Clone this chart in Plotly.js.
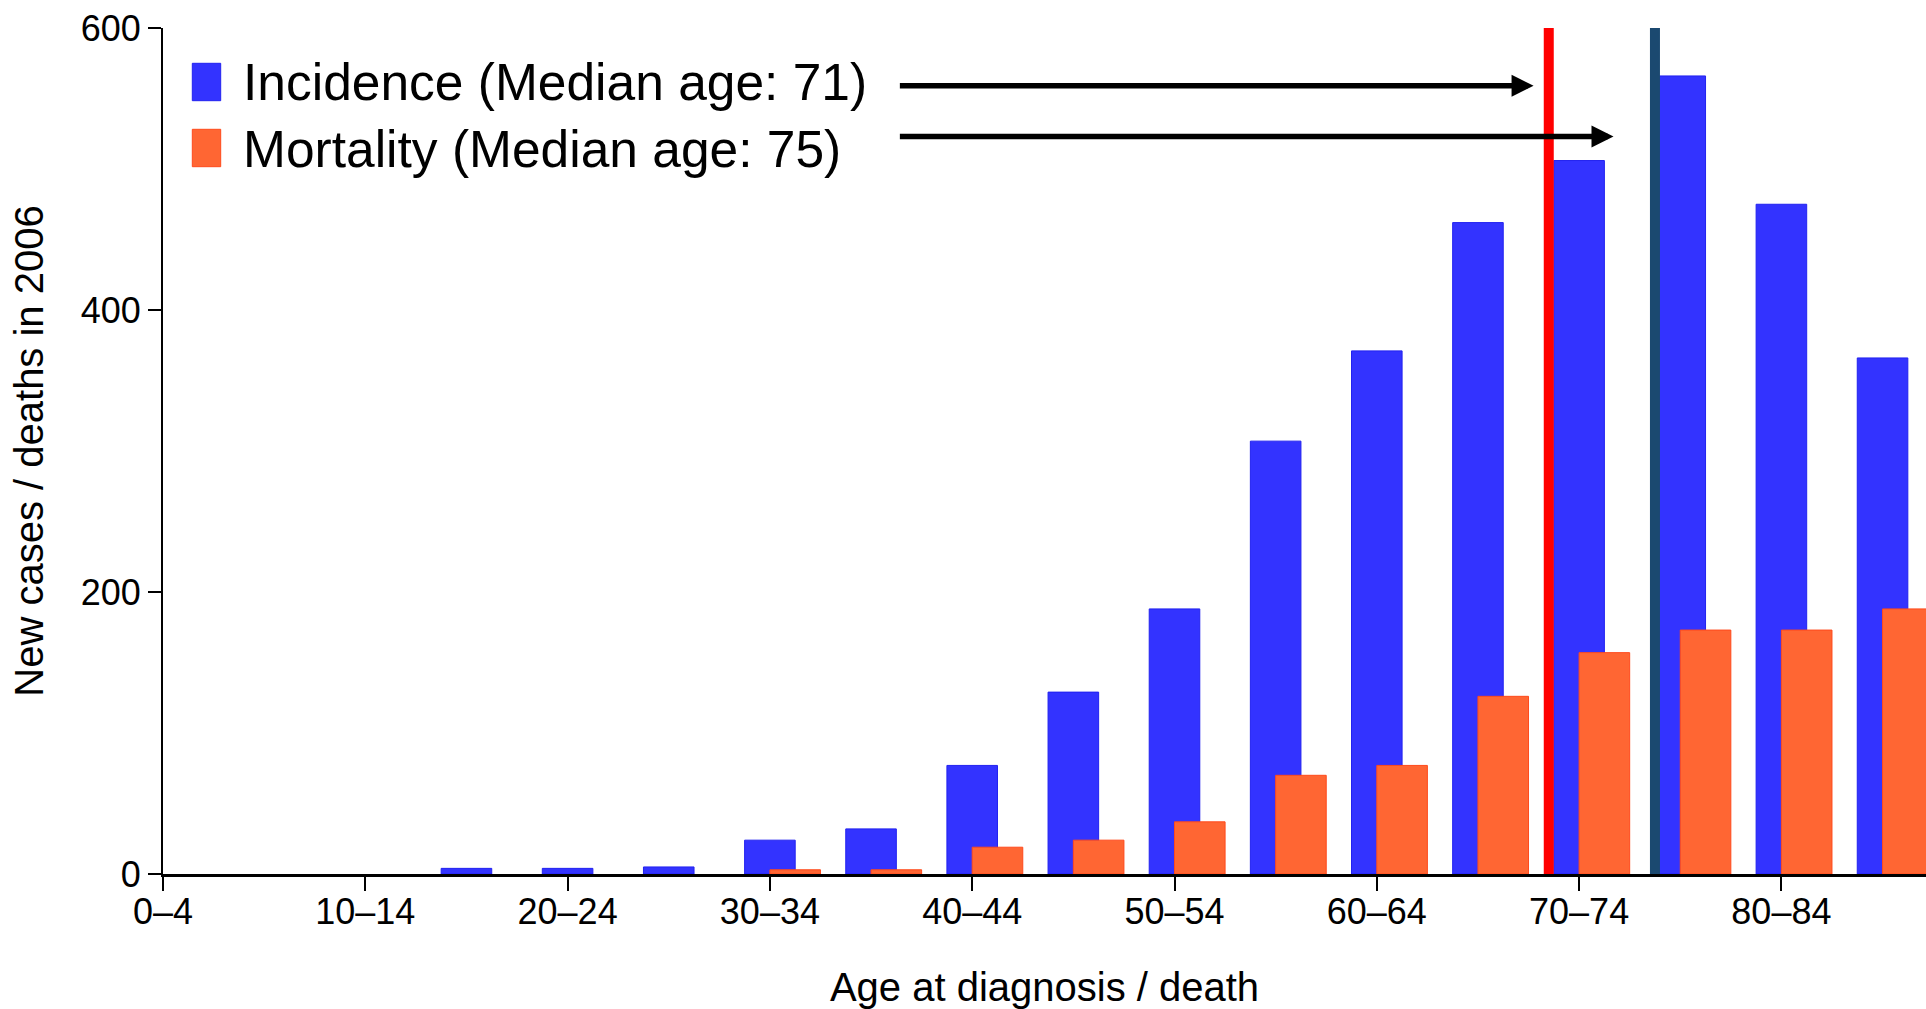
<!DOCTYPE html>
<html>
<head>
<meta charset="utf-8">
<script src="https://cdn.plot.ly/plotly-3.0.1.min.js"></script>
<style>
  html, body { margin: 0; padding: 0; background: #ffffff; }
  #chart { width: 1926px; height: 1009px; }
</style>
</head>
<body>
<div id="chart"></div>
<script>
// ---- data ----
const ageGroups = ['0–4','5–9','10–14','15–19','20–24','25–29','30–34','35–39','40–44',
                   '45–49','50–54','55–59','60–64','65–69','70–74','75–79','80–84','85+'];
const incidence = [0, 0, 0, 4, 4, 5, 24, 32, 77, 129, 188, 307, 371, 462, 506, 566, 475, 366];
const mortality = [0, 0, 0, 0, 0, 0, 3, 3, 19, 24, 37, 70, 77, 126, 157, 173, 173, 188];
const medianIncidenceAge = 71;
const medianMortalityAge = 75;
const seriesNames = ['Incidence (Median age: ' + medianIncidenceAge + ')',
                     'Mortality (Median age: ' + medianMortalityAge + ')'];
// vertical marker lines, in ages (converted to the group axis below)
const markerAges = [71, 76.25];
// arrow geometry, in axis units
const arrowTailX = 7.27;
const arrowTipX = [13.55, 14.34];
const arrowY = [559, 523];
const yTicks = [0, 200, 400, 600];

// ---- layout helpers ----
const W = 1926, H = 1009;
const M = {l: 163, r: 0, t: 28, b: 135};
const PW = W - M.l - M.r, PH = H - M.t - M.b;
const px2x = p => (p - M.l) / PW;
const px2y = p => (H - M.b - p) / PH;
const ageToPos = a => a / 5 - 0.5;

const xIdx = ageGroups.map((_, i) => i);
const FONT = '"Liberation Sans", Arial, Helvetica, sans-serif';
const BLUE = '#3333FF', ORANGE = '#FF6633';

const edgeWidths = vals => vals.map(v => (v > 0 ? 1 : 0));

const traces = [
  {type: 'bar', name: seriesNames[0], x: xIdx, y: incidence, width: 0.5, offset: -0.25,
   marker: {color: BLUE, line: {color: '#2222F0', width: edgeWidths(incidence)}}, showlegend: false, hoverinfo: 'y'},
  {type: 'bar', name: seriesNames[1], x: xIdx, y: mortality, width: 0.5, offset: 0,
   marker: {color: ORANGE, line: {color: '#FF4A1C', width: edgeWidths(mortality)}}, showlegend: false, hoverinfo: 'y'}
];

const lineColors = ['#FF0000', '#1B4970'];
const shapes = markerAges.map((a, i) => ({
  type: 'line', xref: 'x', yref: 'y', x0: ageToPos(a), x1: ageToPos(a), y0: 0, y1: 600,
  line: {color: lineColors[i], width: 10}, layer: 'above'
}));
// legend swatches
[[63.3, 100.7, BLUE, '#2222F0'], [129.3, 166.7, ORANGE, '#FF4A1C']].forEach(([t, b, c, lc]) => {
  shapes.push({type: 'rect', xref: 'paper', yref: 'paper',
    x0: px2x(192.3), x1: px2x(220.7), y0: px2y(b), y1: px2y(t),
    fillcolor: c, line: {color: lc, width: 1}});
});

const annotations = [];
seriesNames.forEach((n, i) => {
  annotations.push({xref: 'paper', yref: 'paper', x: px2x(240.5), y: px2y([81.7, 148.5][i]),
    xanchor: 'left', yanchor: 'middle', text: n, showarrow: false,
    font: {family: FONT, size: 51.5, color: '#000000'}});
});
arrowTipX.forEach((tx, i) => {
  annotations.push({xref: 'x', yref: 'y', axref: 'x', ayref: 'y',
    x: tx, y: arrowY[i], ax: arrowTailX, ay: arrowY[i], text: '', showarrow: true,
    arrowhead: 2, arrowsize: 0.8, arrowwidth: 5.5, arrowcolor: '#000000', standoff: 0, startstandoff: 0});
});

const layout = {
  width: W, height: H,
  margin: M,
  paper_bgcolor: '#ffffff', plot_bgcolor: '#ffffff',
  barmode: 'overlay',
  font: {family: FONT, color: '#000000'},
  xaxis: {
    range: [0, (W - M.l - M.r) / 101.15 ], autorange: false,
    tickmode: 'array', tickvals: xIdx.filter(i => i % 2 === 0),
    ticktext: ageGroups.filter((_, i) => i % 2 === 0),
    ticks: 'outside', ticklen: 14, tickwidth: 2, tickcolor: '#000000',
    ticklabelstandoff: -10,
    showline: true, linecolor: '#000000', linewidth: 2.5,
    showgrid: false, zeroline: false,
    tickfont: {family: FONT, size: 36, color: '#000000'},
    title: {text: 'Age at diagnosis / death', font: {family: FONT, size: 40, color: '#000000'}, standoff: 50}
  },
  yaxis: {
    range: [0, 600], autorange: false,
    tickmode: 'array', tickvals: yTicks,
    ticks: 'outside', ticklen: 13, tickwidth: 2, tickcolor: '#000000',
    showline: true, linecolor: '#000000', linewidth: 2,
    showgrid: false, zeroline: false,
    tickfont: {family: FONT, size: 36, color: '#000000'},
    title: {text: 'New cases / deaths in 2006', font: {family: FONT, size: 40, color: '#000000'}, standoff: 25}
  },
  shapes: shapes,
  annotations: annotations,
  showlegend: false
};

Plotly.newPlot('chart', traces, layout, {displayModeBar: false, staticPlot: true});
</script>
</body>
</html>
